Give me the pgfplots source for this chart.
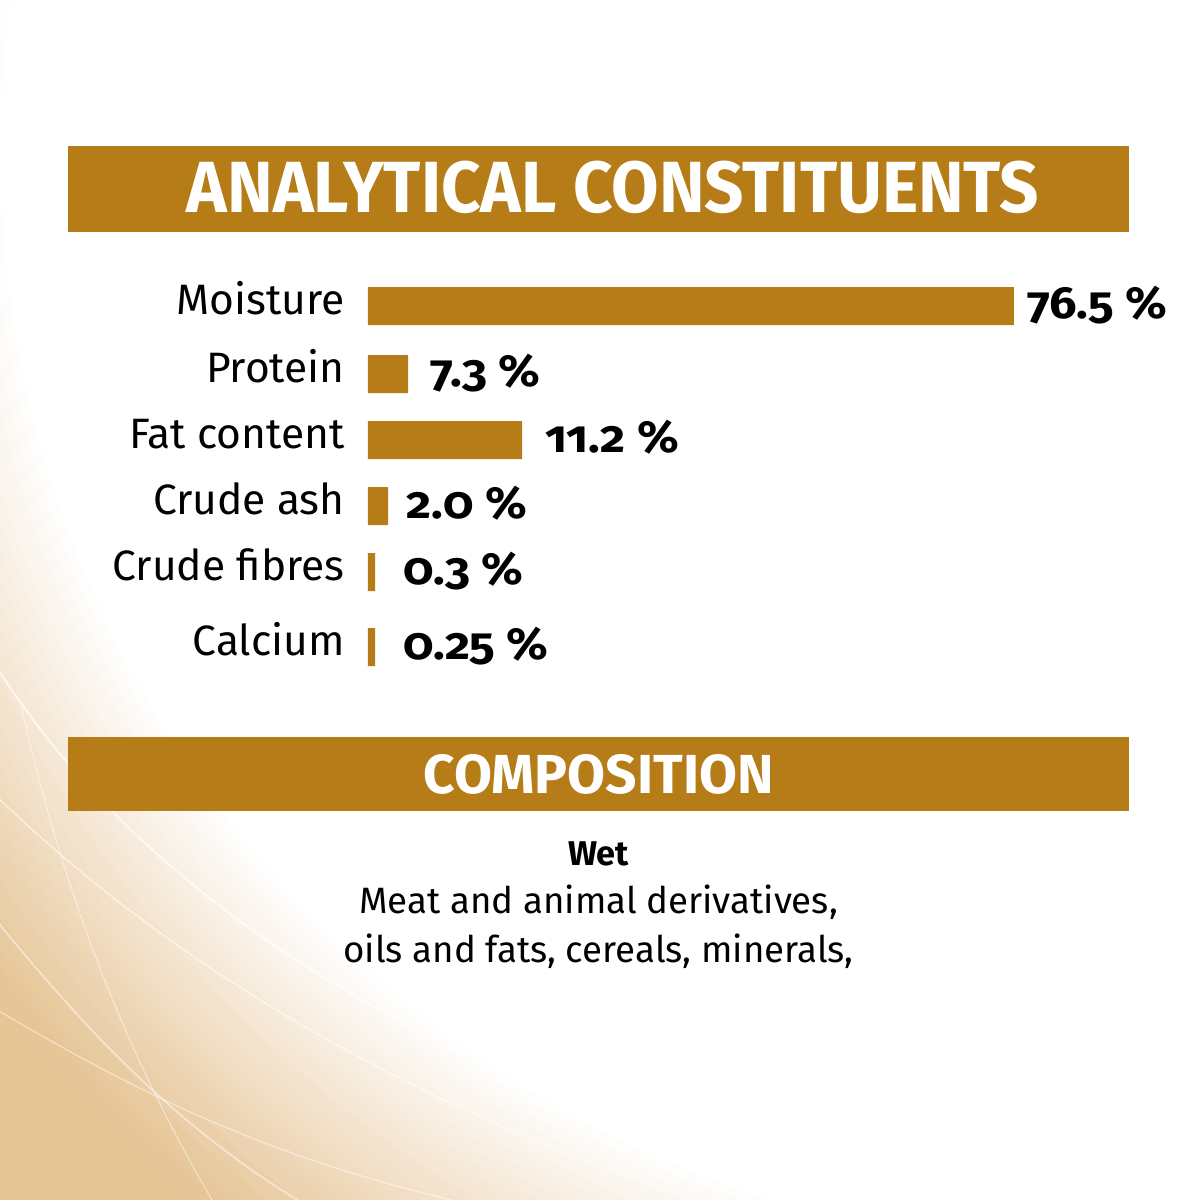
\documentclass[border=0pt]{standalone}
\usepackage{fontspec}
\setmainfont{Fira Sans}
\newfontfamily\valfont{Fira Sans Bold}[Numbers=OldStyle, FakeStretch=1.08]
\newfontfamily\titlefont{Fira Sans Bold}[FakeStretch=0.95]
\newfontfamily\subtitlefont{Fira Sans Bold}
\usepackage{pgfplots}
\usepackage{pgfplotstable}
\pgfplotsset{compat=1.18}
\definecolor{gold}{HTML}{B57C17}
\definecolor{beigeDark}{HTML}{E6C597}

\pgfplotstableread{
y   len   label shift
306 76.5  76.5  13
374 4.74  7.3   22
440 18.24 11.2  23
506 2.37  2.0   18
572 0.83  0.3   28
647 0.83  0.25  28
}\datatable

\begin{document}
\begin{tikzpicture}
\begin{scope}[x=0.6pt,y=-0.6pt]
  \path[fill=white] (0,0) rectangle (1200,1200);
  \begin{scope}
    \clip (0,0) rectangle (1200,1200);
    \foreach \r in {1600,1590,...,1100} {
      \pgfmathtruncatemacro\p{min(100,max(0,(\r-1100)/2.8))}
      \fill[beigeDark!\p!white] (1100,150) circle (\r);
    }
    \draw[white, line width=1.2pt, opacity=0.7] (-20,640) .. controls (150,930) and (500,1120) .. (1000,1230);
    \draw[white, line width=0.8pt, opacity=0.6] (-20,780) .. controls (200,1000) and (500,1150) .. (800,1230);
    \draw[white, line width=1pt, opacity=0.5] (-20,900) .. controls (100,1050) and (200,1150) .. (350,1230);
    \draw[white, line width=0.7pt, opacity=0.5] (-20,1000) .. controls (150,1100) and (300,1180) .. (600,1230);
    \draw[white, line width=0.6pt, opacity=0.5] (20,700) .. controls (60,880) and (120,1050) .. (230,1230);
  \end{scope}
  % banners
  \fill[gold] (68,146) rectangle (1129,232);
  \node[anchor=base, inner sep=0pt, text=white, font=\titlefont\fontsize{43.5pt}{48pt}\selectfont] at (613,212) {ANALYTICAL CONSTITUENTS};
  \fill[gold] (68,737) rectangle (1129,811);
  \node[anchor=base, inner sep=0pt, text=white, font=\subtitlefont\fontsize{33pt}{36pt}\selectfont] at (598.5,793) {COMPOSITION};
  \node[anchor=base, inner sep=0pt, font=\bfseries\fontsize{20.6pt}{24pt}\selectfont] at (598.5,865) {Wet};
  \node[anchor=base, inner sep=0pt, font=\fontsize{22pt}{26pt}\selectfont] at (598.5,913) {Meat and animal derivatives,};
  \node[anchor=base, inner sep=0pt, font=\fontsize{22pt}{26pt}\selectfont] at (598.5,962) {oils and fats, cereals, minerals,};
\end{scope}
\begin{axis}[
  at={(220.8pt,-172.2pt)}, anchor=north west,
  scale only axis, width=387.6pt, height=227.4pt,
  xbar, xmin=0, xmax=76.5, ymin=287, ymax=666, y dir=reverse,
  enlargelimits=false, clip=false,
  bar width=38, bar shift=0pt,
  axis line style={draw=none}, major tick length=0pt,
  xtick=\empty,
  ytick={306,374,440,506,572,647},
  yticklabels={Moisture,Protein,Fat content,Crude ash,Crude fibres,Calcium},
  yticklabel style={font=\fontsize{25.5pt}{30pt}\selectfont, anchor=base east, inner sep=0pt, xshift=-13.8pt, yshift=-4.8pt},
  point meta=explicit symbolic,
  visualization depends on={\thisrow{shift} \as \lshift},
  nodes near coords={\pgfplotspointmeta~\%},
  every node near coord/.append style={anchor=base west, inner sep=0pt, xshift=0.6pt*\lshift, yshift=-7.2pt, font=\valfont\fontsize{27pt}{30pt}\selectfont, text=black},
]
\addplot[fill=gold, draw=none] table[x=len, y=y, meta=label] {\datatable};
\end{axis}
\end{tikzpicture}
\end{document}
